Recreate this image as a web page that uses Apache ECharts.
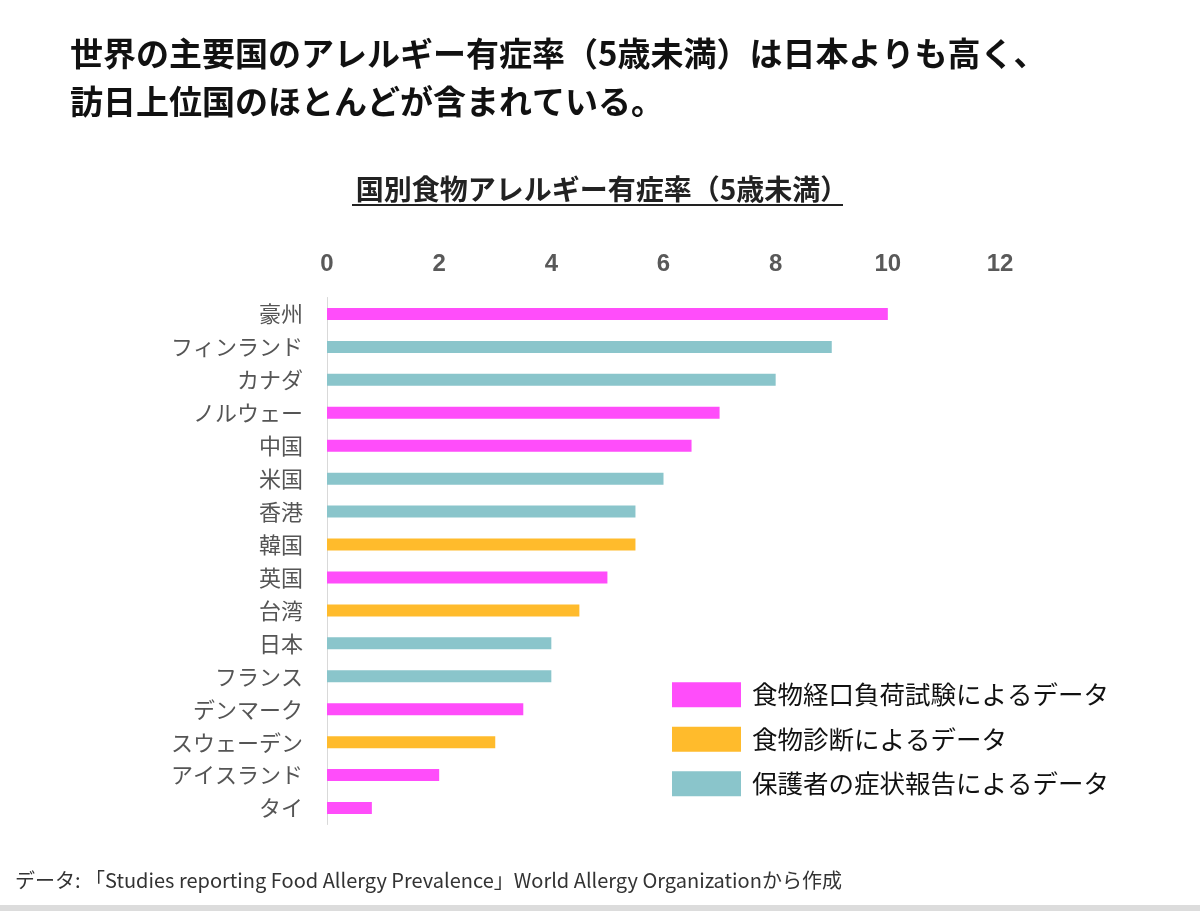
<!DOCTYPE html>
<html><head><meta charset="utf-8">
<script src="https://cdn.jsdelivr.net/npm/echarts@6/dist/echarts.min.js"></script>
<style>html,body{margin:0;padding:0;background:#fff}#c{width:1200px;height:911px}</style>
</head><body><div id="c"></div>
<script>
const categories = ['豪州','フィンランド','カナダ','ノルウェー','中国','米国','香港','韓国','英国','台湾','日本','フランス','デンマーク','スウェーデン','アイスランド','タイ'];
const values = [10, 9, 8, 7, 6.5, 6, 5.5, 5.5, 5, 4.5, 4, 4, 3.5, 3, 2, 0.8];
const groups = [0, 2, 2, 0, 0, 2, 2, 1, 0, 1, 2, 2, 0, 1, 0, 0];
const groupNames = ['食物経口負荷試験によるデータ','食物診断によるデータ','保護者の症状報告によるデータ'];
const groupColors = ['#FF4DFA','#FFBB2C','#8AC5CB'];
const xTicks = [0, 2, 4, 6, 8, 10, 12];

const FONT = '"Noto Sans CJK JP", "Noto Sans", sans-serif';
const chart = echarts.init(document.getElementById('c'));
const series = groupNames.map((name, g) => ({
  name: name,
  type: 'bar',
  stack: 'all',
  barWidth: 12,
  itemStyle: { color: groupColors[g] },
  data: values.map((v, i) => groups[i] === g ? v : '-')
}));
chart.setOption({
  animation: false,
  title: [
    { text: '世界の主要国のアレルギー有症率（5歳未満）は日本よりも高く、\n訪日上位国のほとんどが含まれている。',
      left: 70, top: 29, padding: 0,
      textStyle: { fontFamily: FONT, fontSize: 33, fontWeight: 'bold', color: '#111', lineHeight: 48 } },
    { text: '国別食物アレルギー有症率（5歳未満）', left: 597, top: 170, textAlign: 'center',
      textStyle: { fontFamily: FONT, fontSize: 28, fontWeight: 'bold', color: '#222' } },
    { text: 'データ: 「Studies reporting Food Allergy Prevalence」World Allergy Organizationから作成',
      left: 15, top: 870, padding: 0,
      textStyle: { fontFamily: FONT, fontSize: 20, fontWeight: 'normal', color: '#333' } }
  ],
  graphic: [
    { type: 'line', shape: { x1: 352, y1: 205, x2: 843, y2: 205 }, style: { stroke: '#222', lineWidth: 2 } },
    { type: 'rect', shape: { x: 0, y: 905, width: 1200, height: 6 }, style: { fill: '#dcdcdc' } }
  ],
  legend: {
    orient: 'vertical', left: 672, top: 682, padding: 0,
    itemWidth: 69, itemHeight: 25, itemGap: 19,
    icon: 'rect',
    textStyle: { fontFamily: FONT, fontSize: 25.5, color: '#111', padding: [0, 0, 0, 6] },
    data: groupNames
  },
  grid: { left: 327, right: 200, top: 297.5, bottom: 86.5 },
  xAxis: {
    type: 'value', position: 'top', min: 0, max: 12, interval: 2,
    axisLine: { show: false }, axisTick: { show: false }, splitLine: { show: false },
    axisLabel: { fontFamily: '"Liberation Sans", Arial, sans-serif', fontSize: 24, fontWeight: 'bold', color: '#595959', margin: 21,
      formatter: v => xTicks.includes(v) ? String(v) : '' }
  },
  yAxis: {
    type: 'category', inverse: true, data: categories,
    axisLine: { show: true, lineStyle: { color: '#d9d9d9', width: 1 } },
    axisTick: { show: false },
    axisLabel: { fontFamily: FONT, fontSize: 22, color: '#555', margin: 24 }
  },
  series: series
});
</script></body></html>
